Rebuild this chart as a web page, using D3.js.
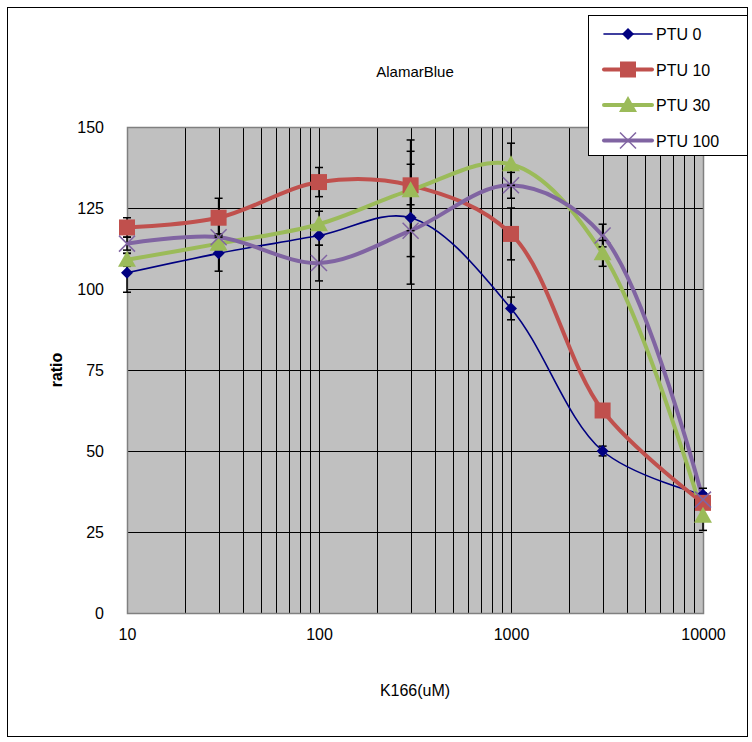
<!DOCTYPE html>
<html>
<head>
<meta charset="utf-8">
<script src="https://cdn.jsdelivr.net/npm/d3@7"></script>
<style>
  body { margin: 0; background: #fff; }
  text { font-family: "Liberation Sans", Arial, sans-serif; }
</style>
</head>
<body>
<svg id="chart" width="752" height="742"></svg>
<script>
// concentrations (uM)
var doses = [10, 30, 100, 300, 1000, 3000, 10000];

var ptu0   = [105, 111, 116.5, 122, 94, 50, 36.5];
var ptu10  = [119, 122, 133, 132, 117, 62.5, 34];
var ptu30  = [109, 114, 120, 130.5, 138.5, 111, 30];
var ptu100 = [114, 116, 108, 118, 132, 116.5, 35];

// +/- error
var err0   = [6, 5.5, 3, 20.5, 3.5, 1.5, 2];
var err10  = [3, 6, 4.5, 14, 8, 2, 2];
var err30  = [2, 3, 4, 8, 6.5, 4, 4.5];
var err100 = [2, 4, 5.5, 8, 4, 3.5, 2];

var seriesNames = ['PTU 0', 'PTU 10', 'PTU 30', 'PTU 100'];
var yTicks = [0, 25, 50, 75, 100, 125, 150];
var xTicks = [10, 100, 1000, 10000];

var w = 752, h = 742;
var margin = {top: 127, right: 49, bottom: 129, left: 127};
var svg = d3.select('#chart');

var series = [
    {name: seriesNames[0], values: ptu0, err: err0, color: '#000080', width: 1.6, marker: 'diamond'},
    {name: seriesNames[1], values: ptu10, err: err10, color: '#C0504D', width: 4, marker: 'square'},
    {name: seriesNames[2], values: ptu30, err: err30, color: '#9BBB59', width: 4, marker: 'triangle'},
    {name: seriesNames[3], values: ptu100, err: err100, color: '#8064A2', width: 4, marker: 'cross'}
];

var xScale = d3.scaleLog()
    .domain([10, 10000])
    .range([margin.left, w - margin.right]);

var yScale = d3.scaleLinear()
    .domain([0, 150])
    .range([h - margin.bottom, margin.top]);

// outer chart border
svg.append('rect')
    .attr('x', 7.5).attr('y', 7.5)
    .attr('width', 740).attr('height', 729)
    .attr('fill', '#fff')
    .attr('stroke', '#000');

// plot area
svg.append('rect')
    .attr('x', margin.left).attr('y', margin.top)
    .attr('width', w - margin.left - margin.right)
    .attr('height', h - margin.top - margin.bottom)
    .attr('fill', '#C0C0C0');

// vertical grid (log minors)
var minorX = [];
[10, 100, 1000].forEach(function (dec) {
    for (var k = 1; k < 10; k++) minorX.push(dec * k);
});
minorX.push(10000);

svg.append('g').selectAll('line')
    .data(minorX)
    .enter().append('line')
    .attr('x1', d => Math.round(xScale(d)) + 0.5)
    .attr('x2', d => Math.round(xScale(d)) + 0.5)
    .attr('y1', margin.top)
    .attr('y2', h - margin.bottom)
    .attr('stroke', '#000')
    .attr('stroke-width', 1);

svg.append('g').selectAll('line')
    .data(yTicks)
    .enter().append('line')
    .attr('x1', margin.left)
    .attr('x2', w - margin.right)
    .attr('y1', d => Math.round(yScale(d)) + 0.5)
    .attr('y2', d => Math.round(yScale(d)) + 0.5)
    .attr('stroke', '#000')
    .attr('stroke-width', 1);

// plot border
svg.append('rect')
    .attr('x', margin.left + 0.5).attr('y', margin.top + 0.5)
    .attr('width', w - margin.left - margin.right)
    .attr('height', h - margin.top - margin.bottom)
    .attr('fill', 'none')
    .attr('stroke', '#808080')
    .attr('stroke-width', 1.5);

// axes
var yAxis = d3.axisLeft(yScale).tickValues(yTicks).tickSize(0).tickPadding(23);
var gy = svg.append('g')
    .attr('transform', 'translate(' + margin.left + ',0)')
    .call(yAxis);
gy.select('.domain').remove();
gy.selectAll('text').style('font-size', '16px').attr('fill', '#000');

var xAxis = d3.axisBottom(xScale).tickValues(xTicks).tickSize(0).tickPadding(16)
    .tickFormat(d3.format('d'));
var gx = svg.append('g')
    .attr('transform', 'translate(0,' + (h - margin.bottom) + ')')
    .call(xAxis);
gx.select('.domain').remove();
gx.selectAll('text').style('font-size', '16px').attr('fill', '#000');

// titles
svg.append('text')
    .attr('x', 415).attr('y', 77)
    .attr('text-anchor', 'middle')
    .style('font-size', '15px')
    .text('AlamarBlue');

svg.append('text')
    .attr('x', 415).attr('y', 696)
    .attr('text-anchor', 'middle')
    .style('font-size', '16px')
    .text('K166(uM)');

svg.append('text')
    .attr('transform', 'translate(62,370) rotate(-90)')
    .attr('text-anchor', 'middle')
    .style('font-size', '16px')
    .style('font-weight', 'bold')
    .text('ratio');

// lines
var line = d3.line()
    .x(d => xScale(d[0]))
    .y(d => yScale(d[1]))
    .curve(d3.curveCatmullRom.alpha(0.5));

series.forEach(function (s) {
    var pts = doses.map((x, i) => [x, s.values[i]]);
    svg.append('path')
        .datum(pts)
        .attr('d', line)
        .attr('fill', 'none')
        .attr('stroke', s.color)
        .attr('stroke-width', s.width)
        .attr('stroke-linejoin', 'round');
});

// error bars
series.forEach(function (s) {
    var g = svg.append('g').attr('stroke', '#000').attr('stroke-width', 1.5);
    doses.forEach(function (x, i) {
        var cx = xScale(x);
        var y1 = yScale(s.values[i] + s.err[i]);
        var y2 = yScale(s.values[i] - s.err[i]);
        g.append('line').attr('x1', cx).attr('x2', cx).attr('y1', y1).attr('y2', y2);
        g.append('line').attr('x1', cx - 4).attr('x2', cx + 4).attr('y1', y1).attr('y2', y1);
        g.append('line').attr('x1', cx - 4).attr('x2', cx + 4).attr('y1', y2).attr('y2', y2);
    });
});

function drawMarker(g, type, color, cx, cy) {
    if (type === 'diamond') {
        g.append('path')
            .attr('d', 'M' + cx + ',' + (cy - 6) + 'L' + (cx + 6) + ',' + cy + 'L' + cx + ',' + (cy + 6) + 'L' + (cx - 6) + ',' + cy + 'Z')
            .attr('fill', color);
    } else if (type === 'square') {
        g.append('rect')
            .attr('x', cx - 8).attr('y', cy - 8)
            .attr('width', 16).attr('height', 16)
            .attr('fill', color);
    } else if (type === 'triangle') {
        g.append('path')
            .attr('d', 'M' + cx + ',' + (cy - 9) + 'L' + (cx + 9) + ',' + (cy + 7) + 'L' + (cx - 9) + ',' + (cy + 7) + 'Z')
            .attr('fill', color);
    } else {
        g.append('path')
            .attr('d', 'M' + (cx - 8) + ',' + (cy - 8) + 'L' + (cx + 8) + ',' + (cy + 8) + 'M' + (cx + 8) + ',' + (cy - 8) + 'L' + (cx - 8) + ',' + (cy + 8))
            .attr('stroke', color)
            .attr('stroke-width', 1.5)
            .attr('fill', 'none');
    }
}

// markers
series.forEach(function (s) {
    var g = svg.append('g');
    doses.forEach(function (x, i) {
        drawMarker(g, s.marker, s.color, xScale(x), yScale(s.values[i]));
    });
});

// legend
var legend = svg.append('g');
legend.append('rect')
    .attr('x', 588.5).attr('y', 15.5)
    .attr('width', 159).attr('height', 140)
    .attr('fill', '#fff')
    .attr('stroke', '#000');

series.forEach(function (s, i) {
    var ly = 34 + i * 35.5;
    legend.append('line')
        .attr('x1', 604).attr('x2', 652)
        .attr('y1', ly).attr('y2', ly)
        .attr('stroke', s.color)
        .attr('stroke-width', s.width)
        .attr('stroke-linecap', 'round');
    drawMarker(legend, s.marker, s.color, 628, ly);
    legend.append('text')
        .attr('x', 656).attr('y', ly + 6)
        .style('font-size', '16px')
        .text(s.name);
});
</script>
</body>
</html>
